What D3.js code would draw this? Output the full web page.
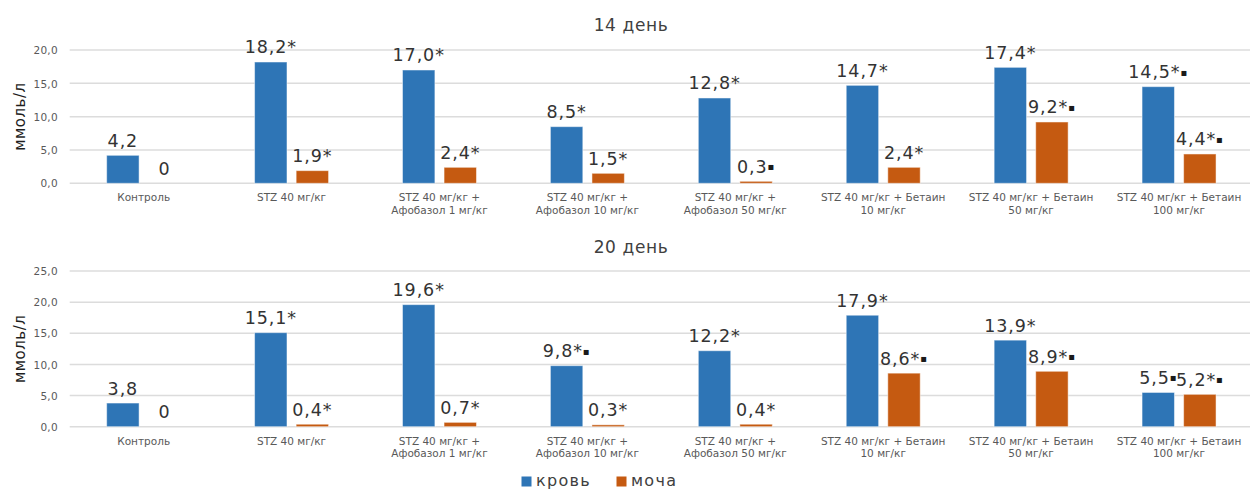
<!DOCTYPE html>
<html>
<head>
<meta charset="utf-8">
<script src="https://cdn.jsdelivr.net/npm/d3@7"></script>
<style>
  html, body { margin: 0; padding: 0; background: #fff; }
  svg { display: block; }
  text { font-family: "DejaVu Sans", Verdana, sans-serif; }
</style>
</head>
<body>
<svg id="chart" width="1250" height="489"></svg>
<script>
// Group labels (each line of the wrapped label)
const categories = [
  ["Контроль"],
  ["STZ 40 мг/кг"],
  ["STZ 40 мг/кг +", "Афобазол 1 мг/кг"],
  ["STZ 40 мг/кг +", "Афобазол 10 мг/кг"],
  ["STZ 40 мг/кг +", "Афобазол 50 мг/кг"],
  ["STZ 40 мг/кг + Бетаин", "10 мг/кг"],
  ["STZ 40 мг/кг + Бетаин", "50 мг/кг"],
  ["STZ 40 мг/кг + Бетаин", "100 мг/кг"]
];

const seriesNames = ["кровь", "моча"];
const seriesColors = ["#2E75B6", "#C55A11"];

// Day 14
const blood14 = [4.2, 18.2, 17.0, 8.5, 12.8, 14.7, 17.4, 14.5];
const urine14 = [0, 1.9, 2.4, 1.5, 0.3, 2.4, 9.2, 4.4];
const bloodMarks14 = ["", "*", "*", "*", "*", "*", "*", "*▪"];
const urineMarks14 = ["", "*", "*", "*", "▪", "*", "*▪", "*▪"];

// Day 20
const blood20 = [3.8, 15.1, 19.6, 9.8, 12.2, 17.9, 13.9, 5.5];
const urine20 = [0, 0.4, 0.7, 0.3, 0.4, 8.6, 8.9, 5.2];
const bloodMarks20 = ["", "*", "*", "*▪", "*", "*", "*", "▪"];
const urineMarks20 = ["", "*", "*", "*", "*", "*▪", "*▪", "*▪"];

const ticks14 = [0, 5, 10, 15, 20];
const ticks20 = [0, 5, 10, 15, 20, 25];

const svg = d3.select("#chart");
const fmt = v => v === 0 ? "0" : v.toFixed(1).replace(".", ",");

const keys = categories.map((c, i) => i);
const x0 = d3.scaleBand().domain(keys).range([69.7, 1253]).paddingInner(0).paddingOuter(0);
const x1 = d3.scaleBand().domain([0, 1]).range([0, 74]).paddingInner(0.22);
const groupOffset = (x0.bandwidth() - 74) / 2;

function panel(opts) {
  const g = svg.append("g");
  const y = d3.scaleLinear().domain([0, opts.max]).range([opts.bottom, opts.top]);

  // gridlines
  g.append("g")
    .selectAll("line")
    .data(opts.ticks)
    .join("line")
    .attr("x1", 69.7).attr("x2", 1253)
    .attr("y1", d => y(d)).attr("y2", d => y(d))
    .attr("stroke", "#dcdcdc").attr("stroke-width", 1.5);

  // y axis labels
  const yAxis = d3.axisLeft(y).tickValues(opts.ticks).tickSize(0).tickPadding(0)
    .tickFormat(d => d.toFixed(1).replace(".", ","));
  const ya = g.append("g").attr("transform", "translate(58,0)").call(yAxis);
  ya.select(".domain").remove();
  ya.selectAll("text")
    .attr("font-family", "DejaVu Sans")
    .attr("font-size", 10.5)
    .attr("letter-spacing", 0.3)
    .attr("fill", "#595959")
    .attr("dy", "0.35em");

  // y axis title
  g.append("text")
    .attr("transform", `translate(25,${(opts.top + opts.bottom) / 2}) rotate(-90)`)
    .attr("text-anchor", "middle")
    .attr("font-size", 15)
    .attr("letter-spacing", 0.5)
    .attr("fill", "#1f1f1f")
    .text("ммоль/л");

  // chart title
  g.append("text")
    .attr("x", 631).attr("y", opts.titleY)
    .attr("text-anchor", "middle")
    .attr("font-size", 17)
    .attr("letter-spacing", 0.6)
    .attr("fill", "#404040")
    .text(opts.title);

  // bars + labels
  const rows = keys.map(i => ({
    i,
    vals: [
      { s: 0, v: opts.blood[i], m: opts.bloodMarks[i] },
      { s: 1, v: opts.urine[i], m: opts.urineMarks[i] }
    ]
  }));

  const groups = g.append("g").selectAll("g")
    .data(rows).join("g")
    .attr("transform", d => `translate(${x0(d.i) + groupOffset},0)`);

  groups.selectAll("rect")
    .data(d => d.vals.filter(e => e.v > 0))
    .join("rect")
    .attr("x", d => x1(d.s))
    .attr("width", x1.bandwidth())
    .attr("y", d => y(d.v))
    .attr("height", d => y(0) - y(d.v))
    .attr("fill", d => seriesColors[d.s])
    .attr("stroke", "rgba(255,255,255,0.5)")
    .attr("stroke-width", 1);

  // value labels: number, asterisk, and a small square significance marker
  const vl = groups.selectAll("text.val")
    .data(d => d.vals)
    .join("text")
    .attr("class", "val")
    .attr("x", d => x1(d.s) + x1.bandwidth() / 2)
    .attr("y", d => y(d.v) - 8.5)
    .attr("text-anchor", "middle")
    .attr("font-size", 17.5)
    .attr("letter-spacing", 0.9)
    .attr("fill", "#333333");
  vl.append("tspan").text(d => fmt(d.v) + d.m.replace("▪", ""));
  vl.filter(d => d.m.includes("▪"))
    .append("tspan")
    .attr("font-size", 10)
    .attr("dy", -2.5)
    .attr("fill", "#1a1a1a")
    .text("▪");

  // category labels
  const cl = g.append("g").selectAll("text")
    .data(categories.map((c, i) => ({ c, i })))
    .join("text")
    .attr("x", d => x0(d.i) + x0.bandwidth() / 2)
    .attr("y", opts.bottom + 18)
    .attr("text-anchor", "middle")
    .attr("font-size", 10.5)
    .attr("fill", "#595959");
  cl.selectAll("tspan")
    .data(d => d.c.map((line, k) => ({ line, k, x: x0(d.i) + x0.bandwidth() / 2 })))
    .join("tspan")
    .attr("x", d => d.x)
    .attr("dy", d => d.k === 0 ? 0 : 12.5)
    .text(d => d.line);
}

panel({
  title: "14 день", titleY: 31, max: 20, ticks: ticks14, top: 50, bottom: 183.3,
  blood: blood14, urine: urine14, bloodMarks: bloodMarks14, urineMarks: urineMarks14
});
panel({
  title: "20 день", titleY: 252.5, max: 25, ticks: ticks20, top: 271, bottom: 426.7,
  blood: blood20, urine: urine20, bloodMarks: bloodMarks20, urineMarks: urineMarks20
});

// legend
const legend = svg.append("g");
const legendItems = [{ x: 521.5, tx: 536 }, { x: 616.5, tx: 631 }];
legend.selectAll("rect")
  .data(seriesNames)
  .join("rect")
  .attr("x", (d, i) => legendItems[i].x)
  .attr("y", 476.5)
  .attr("width", 10).attr("height", 10)
  .attr("fill", (d, i) => seriesColors[i]);
legend.selectAll("text")
  .data(seriesNames)
  .join("text")
  .attr("x", (d, i) => legendItems[i].tx)
  .attr("y", 486)
  .attr("font-size", 16)
  .attr("letter-spacing", 1.3)
  .attr("fill", "#404040")
  .text(d => d);
</script>
</body>
</html>
